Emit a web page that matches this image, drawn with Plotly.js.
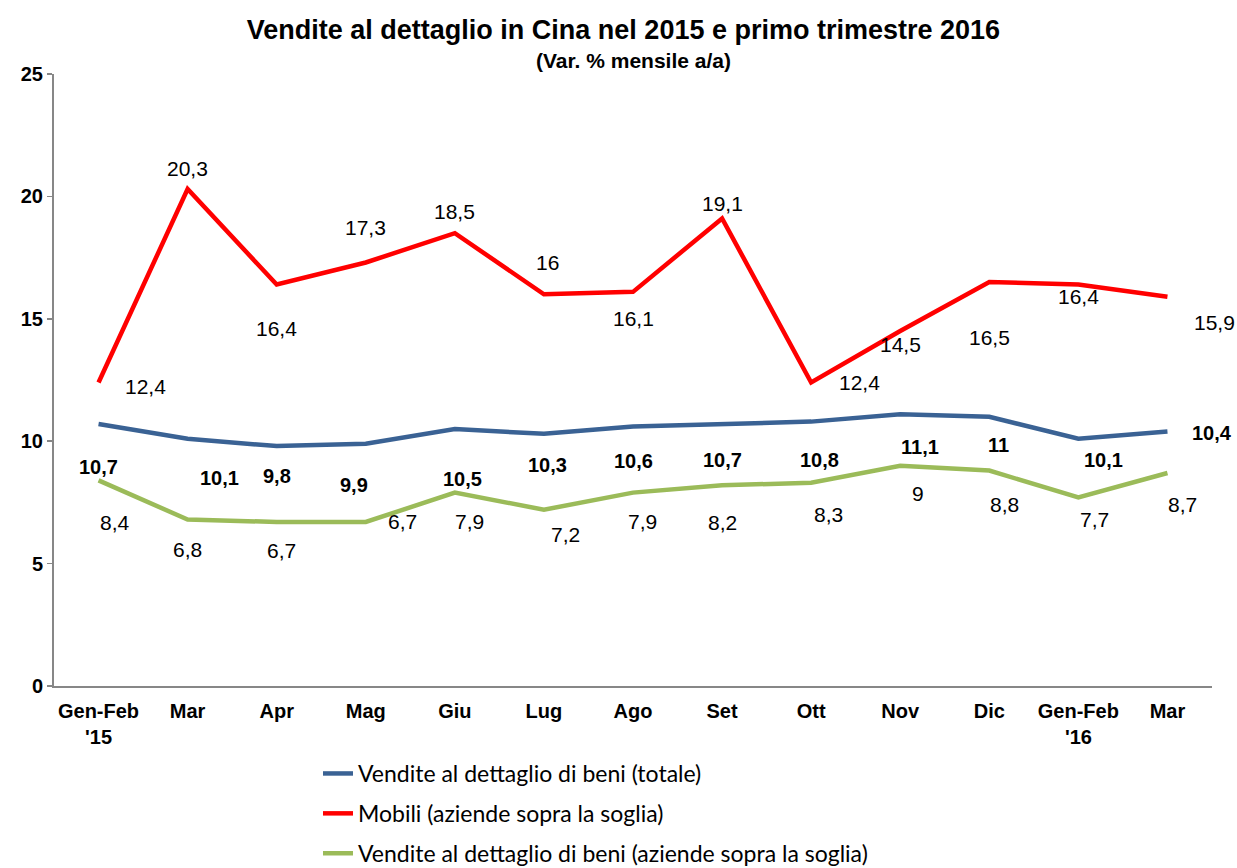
<!DOCTYPE html>
<html>
<head>
<meta charset="utf-8">
<script src="https://cdn.plot.ly/plotly-3.0.1.min.js"></script>
<style>
  html, body { margin: 0; padding: 0; background: #ffffff; }
  #chart { width: 1237px; height: 868px; }
</style>
</head>
<body>
<div id="chart"></div>
<script>
// ---- Data ----
const categories = ["Gen-Feb<br>'15", "Mar", "Apr", "Mag", "Giu", "Lug", "Ago", "Set", "Ott", "Nov", "Dic", "Gen-Feb<br>'16", "Mar"];
const totale = [10.7, 10.1, 9.8, 9.9, 10.5, 10.3, 10.6, 10.7, 10.8, 11.1, 11, 10.1, 10.4];
const mobili = [12.4, 20.3, 16.4, 17.3, 18.5, 16, 16.1, 19.1, 12.4, 14.5, 16.5, 16.4, 15.9];
const sopraSoglia = [8.4, 6.8, 6.7, 6.7, 7.9, 7.2, 7.9, 8.2, 8.3, 9, 8.8, 7.7, 8.7];
const seriesNames = [
  "Vendite al dettaglio di beni (totale)",
  "Mobili (aziende sopra la soglia)",
  "Vendite al dettaglio di beni (aziende sopra la soglia)"
];

// ---- Label offsets (pixels: [dx, dy], dy positive = down) ----
const offTotale = [[0,43],[32,39],[0,30],[-12,41],[8,50],[4,31],[0,34],[0,36],[8,38],[20,33],[9,28],[25,21],[45,2]];
const offMobili = [[47,4],[0,-21],[0,44],[0,-35],[0,-22],[4,-32],[0,27],[0,-15],[48,0],[0,13],[0,55],[0,12],[47,26]];
const offSoglia = [[16,42],[0,30],[5,29],[37,0],[15,29],[22,25],[9,29],[0,37],[17,32],[18,28],[15,34],[16,22],[15,31]];

const xs = categories.map((_, i) => i);
const fmt = v => String(v).replace('.', ',');

const colors = ['#3A6294', '#FF0000', '#9BBB59'];
const seriesVals = [totale, mobili, sopraSoglia];

const traces = seriesVals.map((vals, k) => ({
  type: 'scatter',
  mode: 'lines',
  x: xs,
  y: vals,
  name: seriesNames[k],
  legendgroup: 'g' + k,
  line: { color: colors[k], width: 4.5 },
  hoverinfo: 'skip'
}));

const annotations = [];
function addLabels(vals, offs, bold) {
  vals.forEach((v, i) => {
    annotations.push({
      x: xs[i], y: v, xref: 'x', yref: 'y',
      text: bold ? '<b>' + fmt(v) + '</b>' : fmt(v),
      showarrow: false,
      xanchor: 'center', yanchor: 'middle',
      xshift: offs[i][0], yshift: -offs[i][1],
      font: { family: 'Liberation Sans, Arial, sans-serif', size: bold ? 20 : 21, color: '#000000' }
    });
  });
}
addLabels(totale, offTotale, true);
addLabels(mobili, offMobili, false);
addLabels(sopraSoglia, offSoglia, false);

annotations.push({
  text: '<b>(Var. % mensile a/a)</b>',
  xref: 'paper', yref: 'paper',
  x: 0.5, y: 1, yshift: 14,
  xanchor: 'center', yanchor: 'middle',
  showarrow: false,
  font: { family: 'Liberation Sans, Arial, sans-serif', size: 21, color: '#000000' }
});

const layout = {
  width: 1237,
  height: 868,
  paper_bgcolor: '#ffffff',
  plot_bgcolor: '#ffffff',
  margin: { l: 54, r: 25, t: 74, b: 182, autoexpand: false },
  title: {
    text: '<b>Vendite al dettaglio in Cina nel 2015 e primo trimestre 2016</b>',
    font: { family: 'Liberation Sans, Arial, sans-serif', size: 27, color: '#000000' },
    x: 0.504, xanchor: 'center',
    y: 1 - 30 / 868, yanchor: 'middle', yref: 'container'
  },
  xaxis: {
    range: [-0.5, 12.5],
    tickvals: xs,
    ticktext: categories,
    showgrid: false,
    zeroline: false,
    showline: true,
    linecolor: '#878787',
    linewidth: 2,
    ticks: 'outside',
    ticklen: 6,
    tickcolor: 'rgba(0,0,0,0)',
    tickfont: { family: 'Liberation Sans, Arial, sans-serif', size: 20, color: '#000000', weight: 'bold' },
    fixedrange: true
  },
  yaxis: {
    range: [0, 25],
    dtick: 5,
    tick0: 0,
    showgrid: false,
    zeroline: false,
    showline: true,
    linecolor: '#878787',
    linewidth: 2,
    ticks: 'outside',
    ticklen: 5,
    tickcolor: '#878787',
    tickwidth: 1.5,
    tickfont: { family: 'Liberation Sans, Arial, sans-serif', size: 20, color: '#000000', weight: 'bold' },
    fixedrange: true
  },
  showlegend: true,
  legend: {
    orientation: 'v',
    x: (318 - 54) / 1158, xanchor: 'left',
    y: -(752 - 686) / 612, yanchor: 'top',
    traceorder: 'grouped',
    tracegroupgap: 7,
    font: { family: 'Lato, sans-serif', size: 23, color: '#000000' },
    bgcolor: 'rgba(0,0,0,0)'
  },
  annotations: annotations
};

Plotly.newPlot('chart', traces, layout, { displayModeBar: false, staticPlot: true });
</script>
</body>
</html>
